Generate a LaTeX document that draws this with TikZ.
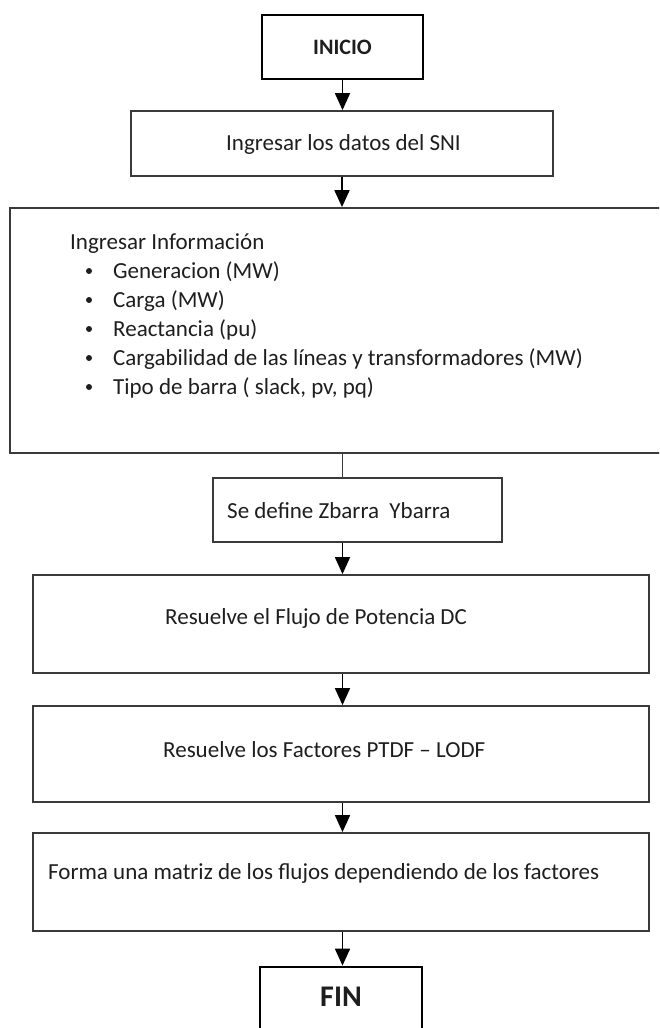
\documentclass[tikz,border=0pt]{standalone}
\usepackage{fontspec}
\setmainfont{Carlito}
\usetikzlibrary{arrows.meta}
\definecolor{edge}{HTML}{3A3A3A}
\definecolor{ink}{HTML}{1E1E1E}
\begin{document}
\begin{tikzpicture}[x=1pt,y=-1pt,
  box/.style={draw=edge,line width=1.8pt,rectangle,inner sep=0pt},
  termbox/.style={draw=black,line width=2.8pt,rectangle,inner sep=0pt},
  txt/.style={text=ink,font=\fontsize{23}{27}\selectfont,inner sep=0pt,anchor=base west},
  flow/.style={draw=black,line width=1.8pt,-{Triangle[width=15pt,length=17pt]}},
  link/.style={draw=edge,line width=1.8pt}]
\useasboundingbox (0,0) rectangle (659,1028);
\clip (0,0) rectangle (659,1028);

% start
\node[termbox,minimum width=161pt,minimum height=64pt] (inicio) at (342.5,47) {};
\node[text=ink,font=\fontsize{22}{26}\selectfont\bfseries,inner sep=0pt] (tinicio) at (342.5,47) {INICIO};

% data input
\node[box,minimum width=422pt,minimum height=65pt] (b2) at (342,143.5) {};
\node[txt] (t2) at (226,150) {Ingresar los datos del SNI};

% information list (open on the right)
\node[box,minimum width=654pt,minimum height=245pt] (b3) at (337,330.5) {};
\node[txt] (t3a) at (70,249) {Ingresar Información};
\foreach \y/\s [count=\i] in {278/Generacion (MW),307/Carga (MW),336/Reactancia (pu),
  365/Cargabilidad de las líneas y transformadores (MW),394/{Tipo de barra ( slack, pv, pq)}}{
  \fill[ink] (89,\y-7) circle (3pt);
  \node[txt] (t3b\i) at (113,\y) {\s};
}

% admittance and impedance matrices
\node[box,minimum width=289pt,minimum height=64pt] (b4) at (357.5,510) {};
\node[txt] (t4) at (227,518) {Se define Zbarra\ \ Ybarra};

% DC power flow
\node[box,minimum width=616pt,minimum height=98pt] (b5) at (341,624) {};
\node[txt] (t5) at (165,624) {Resuelve el Flujo de Potencia DC};

% sensitivity factors
\node[box,minimum width=616pt,minimum height=96pt] (b6) at (341,754) {};
\node[txt] (t6) at (163,757) {Resuelve los Factores PTDF – LODF};

% flow matrix
\node[box,minimum width=616pt,minimum height=98pt] (b7) at (341,882) {};
\node[txt] (t7) at (48,879) {Forma una matriz de los flujos dependiendo de los factores};

% end
\node[termbox,minimum width=162pt,minimum height=80pt] (fin) at (341,1007) {};
\node[text=ink,font=\fontsize{30}{34}\selectfont\bfseries,inner sep=0pt] (tfin) at (341,997) {FIN};

% connectors
\draw[flow] (inicio.south) -- (b2.north -| inicio.south);
\draw[flow] (b2.south) -- (b3.north -| b2.south);
\draw[link] (b3.south -| inicio.south) -- (b4.north -| inicio.south);
\draw[flow] (b4.south -| inicio.south) -- (b5.north -| inicio.south);
\draw[flow] (b5.south -| inicio.south) -- (b6.north -| inicio.south);
\draw[flow] (b6.south -| inicio.south) -- (b7.north -| inicio.south);
\draw[flow] (b7.south -| inicio.south) -- (fin.north -| inicio.south);
\end{tikzpicture}
\end{document}
